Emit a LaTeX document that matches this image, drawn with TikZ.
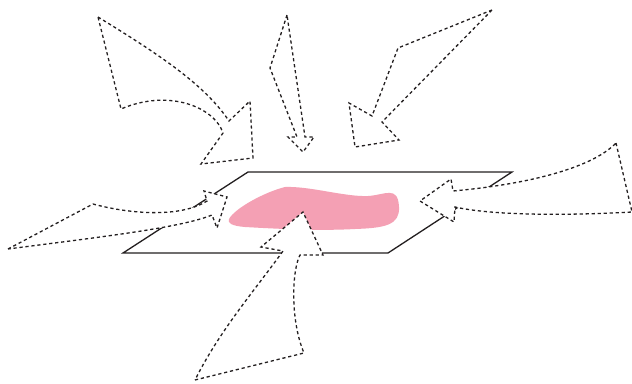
\documentclass[tikz,border=0pt]{standalone}
\usepackage{xcolor}
\usepackage{tikz}
\definecolor{inkgray}{HTML}{231F20}
\definecolor{blobpink}{HTML}{F4A0B4}

\begin{document}
\begin{tikzpicture}[
  x=1pt, y=-1pt,
  plane/.style={draw=inkgray, line width=1.3pt, line join=miter, fill=white},
  blob/.style={fill=blobpink, draw=none},
  barr/.style={draw=inkgray, fill=white, line width=1.3pt,
               dash pattern=on 3.2pt off 2.8pt, line join=miter},
]
  \useasboundingbox (0,0) rectangle (632,383);

  %% ── Base plane and the pink patch on it ───────────────────────────────
  \draw[plane] (123,253) -- (388,253) -- (512,172) -- (248,172) -- cycle;
  \fill[blob] (229,219) .. controls (235,208) and (265,192) .. (285,187)
              .. controls (310,186) and (345,197) .. (368,196)
              .. controls (385,195) and (398,185) .. (399,207)
              .. controls (400,225) and (385,228) .. (355,229)
              .. controls (320,231) and (280,229) .. (245,227)
              .. controls (232,226) and (227,223) .. (229,219) -- cycle;

  %% ── Top-left curved arrow ─────────────────────────────────────────────
  \draw[barr] (98,17) .. controls (160,55) and (205,85) .. (229,121)
              -- (250,101) -- (253,158) -- (201,164) -- (223,133)
              .. controls (215,108) and (170,88) .. (121,109) -- cycle;

  %% ── Top thin arrow ────────────────────────────────────────────────────
  \draw[barr] (287,15) -- (270,68) -- (297,137) -- (288,137) -- (303,152)
              -- (314,137) -- (305,137) -- cycle;

  %% ── Top-right arrow ───────────────────────────────────────────────────
  \draw[barr] (492,10) -- (398,48) -- (372,116) -- (349,103) -- (355,147)
              -- (399,140) -- (382,122) -- cycle;

  %% ── Right curved arrow ────────────────────────────────────────────────
  \draw[barr] (616,143) -- (632,212)
              .. controls (560,216) and (490,215) .. (455,207)
              -- (454,222) -- (420,201) -- (451,179) -- (453,191)
              .. controls (520,185) and (590,170) .. (616,143) -- cycle;

  %% ── Left arrow ────────────────────────────────────────────────────────
  \draw[barr] (8,249) -- (93,204)
              .. controls (130,214) and (180,218) .. (207,201)
              -- (204,191) -- (227,197) -- (217,228) -- (212,215)
              .. controls (180,228) and (100,237) .. (8,249) -- cycle;

  %% ── Bottom arrow ──────────────────────────────────────────────────────
  \draw[barr] (195,380) -- (304,353)
              .. controls (290,320) and (292,270) .. (300,255)
              -- (323,255) -- (303,212) -- (261,247) -- (283,251)
              .. controls (255,290) and (220,330) .. (195,380) -- cycle;

\end{tikzpicture}
\end{document}
